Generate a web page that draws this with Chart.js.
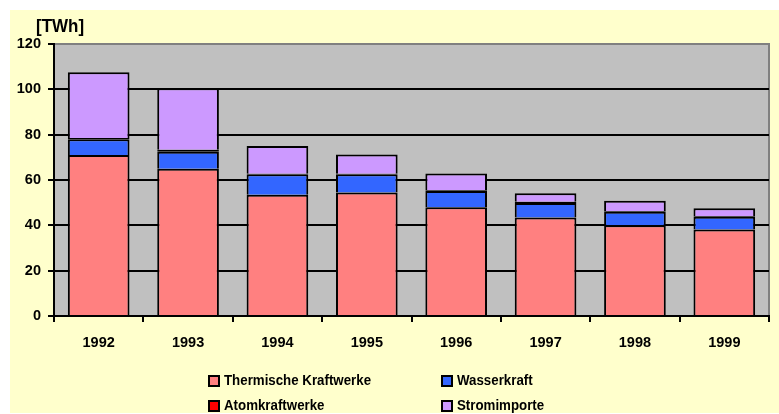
<!DOCTYPE html>
<html>
<head>
<meta charset="utf-8">
<script src="https://cdn.jsdelivr.net/npm/chart.js@4"></script>
<style>
  html, body { margin: 0; padding: 0; background: #fff; }
  #wrap { position: relative; width: 779px; height: 414px; }
</style>
</head>
<body>
<div id="wrap"><canvas id="myChart" width="779" height="414"></canvas></div>
<script>
// Stromerzeugung nach Quelle, in TWh
const jahre = ['1992', '1993', '1994', '1995', '1996', '1997', '1998', '1999'];
const thermisch = [71, 65, 53.5, 54.5, 48, 43.5, 40, 38.2];
const wasser = [7, 7.5, 9, 8, 7.2, 6.3, 6, 5.6];
const atom = [0.5, 0.8, 0.3, 0.3, 0.3, 0.6, 0.3, 0.3];
const importe = [29, 27.2, 12.2, 8.5, 7.4, 3.7, 4.5, 3.4];
const yTicks = [0, 20, 40, 60, 80, 100, 120];

const FONT = "'Liberation Sans', Arial, sans-serif";

// Hintergrund, Plotfläche, Einheit und Legende
const rahmen = {
  id: 'rahmen',
  beforeDraw(chart) {
    const ctx = chart.ctx;
    const a = chart.chartArea;
    ctx.save();
    ctx.fillStyle = '#fff';
    ctx.fillRect(0, 0, chart.width, chart.height);
    ctx.fillStyle = '#FFFFCC';
    ctx.fillRect(10, 10, chart.width - 10, chart.height - 11);
    ctx.fillStyle = '#C0C0C0';
    ctx.fillRect(a.left, a.top, a.right - a.left, a.bottom - a.top);
    ctx.strokeStyle = '#808080';
    ctx.lineWidth = 2;
    ctx.beginPath();
    ctx.moveTo(a.left, a.top);
    ctx.lineTo(a.right, a.top);
    ctx.lineTo(a.right, a.bottom);
    ctx.stroke();
    ctx.restore();
  },
  afterDraw(chart) {
    const ctx = chart.ctx;
    ctx.save();
    ctx.fillStyle = '#000';
    ctx.textBaseline = 'middle';
    ctx.textAlign = 'left';
    // Einheit
    ctx.save();
    ctx.translate(36, 27);
    ctx.scale(1, 1.12);
    ctx.font = 'bold 17px ' + FONT;
    ctx.fillText('[TWh]', 0, 0);
    ctx.restore();
    // Legende, zwei Spalten
    const pos = [[209, 381], [442, 381], [209, 406], [442, 406]];
    chart.data.datasets.forEach((ds, i) => {
      const [x, y] = pos[i];
      ctx.fillStyle = ds.backgroundColor;
      ctx.fillRect(x, y - 5, 10, 10);
      ctx.strokeStyle = '#000';
      ctx.lineWidth = 2;
      ctx.strokeRect(x, y - 5, 10, 10);
      ctx.save();
      ctx.translate(x + 15, y);
      ctx.scale(1, 1.15);
      ctx.fillStyle = '#000';
      ctx.font = 'bold 13.3px ' + FONT;
      ctx.fillText(ds.label, 0, 0);
      ctx.restore();
    });
    ctx.restore();
  }
};

function serie(label, data, farbe) {
  return {
    label: label,
    data: data,
    backgroundColor: farbe,
    borderColor: '#000',
    borderWidth: 2,
    inflateAmount: 0,
    categoryPercentage: 1,
    barPercentage: 0.69
  };
}

const atomSerie = serie('Atomkraftwerke', atom, '#FF0000');
atomSerie.borderSkipped = false; // sehr kleine Werte: nur als dicke Linie sichtbar

const ctx = document.getElementById('myChart');

new Chart(ctx, {
  type: 'bar',
  data: {
    labels: jahre,
    datasets: [
      serie('Thermische Kraftwerke', thermisch, '#FF8080'),
      serie('Wasserkraft', wasser, '#3366FF'),
      atomSerie,
      serie('Stromimporte', importe, '#CC99FF')
    ]
  },
  options: {
    responsive: false,
    animation: false,
    devicePixelRatio: 1,
    layout: { padding: { top: 44, right: 10, left: 0, bottom: 0 } },
    plugins: {
      legend: { display: false },
      tooltip: { enabled: false }
    },
    scales: {
      x: {
        stacked: true,
        offset: true,
        grid: { offset: true, drawOnChartArea: false, color: '#000', tickColor: '#000', tickLength: 6, lineWidth: 2 },
        border: { color: '#000', width: 2 },
        ticks: { color: '#000', padding: 12, font: { family: FONT, size: 14.5, weight: 'bold' } },
        afterFit(s) { s.height = 98; }
      },
      y: {
        stacked: true,
        min: 0,
        max: 120,
        afterBuildTicks(s) { s.ticks = yTicks.map(v => ({ value: v })); },
        grid: {
          color: c => (c.tick && c.tick.value === 120) ? 'rgba(0,0,0,0)' : '#000',
          tickColor: '#000',
          tickLength: 6,
          lineWidth: 2
        },
        border: { color: '#000', width: 2 },
        ticks: { color: '#000', padding: 7, font: { family: FONT, size: 14.5, weight: 'bold' } },
        afterFit(s) { s.width = 54; }
      }
    }
  },
  plugins: [rahmen]
});
</script>
</body>
</html>
